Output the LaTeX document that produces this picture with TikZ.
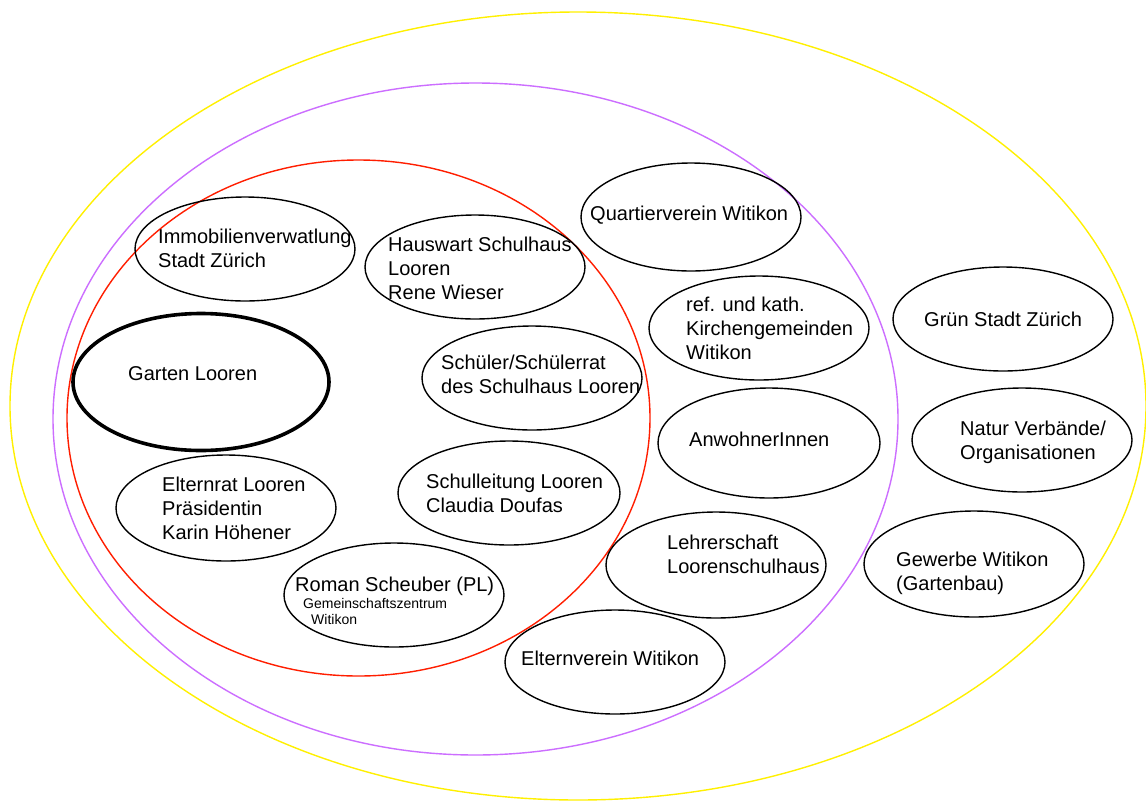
\documentclass[tikz,border=0pt]{standalone}
\usepackage{fontspec}
\setmainfont{Liberation Sans}
\usetikzlibrary{shapes.geometric}
\definecolor{ringyellow}{RGB}{255,240,0}
\definecolor{ringpurple}{RGB}{204,110,255}
\definecolor{ringred}{RGB}{255,30,0}
\tikzset{
  ring/.style={ellipse, draw, line width=1.4pt, inner sep=0pt},
  ell/.style={ellipse, draw=black, line width=1.4pt, inner sep=0pt, minimum width=220pt, minimum height=104pt},
  thickell/.style={ell, line width=3.6pt},
  lbl/.style={anchor=base west, align=left, inner sep=0pt, font=\fontsize{20}{24}\selectfont},
  smalllbl/.style={anchor=base west, align=left, inner sep=0pt, font=\fontsize{14}{16}\selectfont}
}
\begin{document}
\begin{tikzpicture}[x=1pt,y=-1pt]
\useasboundingbox[fill=white] (0,0) rectangle (1146,801);
% rings
\node[ring, draw=ringyellow, minimum width=1136pt, minimum height=788pt] (outer) at (578,406) {};
\node[ring, draw=ringpurple, minimum width=845pt, minimum height=672pt] (middle) at (475.5,419) {};
\node[ring, draw=ringred, minimum width=583pt, minimum height=516pt] (inner) at (358.5,418) {};
% ellipses (text anchored at the baseline of its last line)
\node[ell] (immo) at (245,249) {};
\node[lbl] (timmo) at (158,267) {Immobilienverwatlung\\Stadt Zürich};
\node[ell] (haus) at (475,267) {};
\node[lbl] (thaus) at (388,299) {Hauswart Schulhaus\\Looren\\Rene Wieser};
\node[ell, minimum height=108pt] (quart) at (691,217) {};
\node[lbl] (tquart) at (590,220) {Quartierverein Witikon};
\node[ell] (kirche) at (759,328) {};
\node[lbl] (tkirche) at (686,359) {ref. und kath.\\Kirchengemeinden\\Witikon};
\node[ell] (gruen) at (1003,319) {};
\node[lbl] (tgruen) at (924,326) {Grün Stadt Zürich};
\node[thickell, minimum width=256pt, minimum height=137pt] (garten) at (201,382) {};
\node[lbl] (tgarten) at (128,380) {Garten Looren};
\node[ell] (schueler) at (532,378) {};
\node[lbl] (tschueler) at (441,393) {Schüler/Schülerrat\\des Schulhaus Looren};
\node[ell, minimum width=222pt, minimum height=110pt] (anwohner) at (769,443) {};
\node[lbl] (tanwohner) at (689,446) {AnwohnerInnen};
\node[ell] (natur) at (1022,440) {};
\node[lbl] (tnatur) at (960,459) {Natur Verbände/\\Organisationen};
\node[ell, minimum height=106pt] (elternrat) at (226,508) {};
\node[lbl] (telternrat) at (162,539) {Elternrat Looren\\Präsidentin\\Karin Höhener};
\node[ell, minimum width=222pt] (leitung) at (509,493) {};
\node[lbl] (tleitung) at (426,512) {Schulleitung Looren\\Claudia Doufas};
\node[ell, minimum height=106pt] (lehrer) at (716,565) {};
\node[lbl] (tlehrer) at (667,573) {Lehrerschaft\\Loorenschulhaus};
\node[ell, minimum height=106pt] (gewerbe) at (974,564) {};
\node[lbl] (tgewerbe) at (896,590) {Gewerbe Witikon\\(Gartenbau)};
\node[ell] (roman) at (394,595) {};
\node[lbl] (troman) at (295,591) {Roman Scheuber (PL)};
\node[smalllbl] (tgz) at (303,624) {Gemeinschaftszentrum\\\hspace*{8pt}Witikon};
\node[ell] (elternverein) at (615,662) {};
\node[lbl] (televerein) at (521,665) {Elternverein Witikon};
\end{tikzpicture}
\end{document}
